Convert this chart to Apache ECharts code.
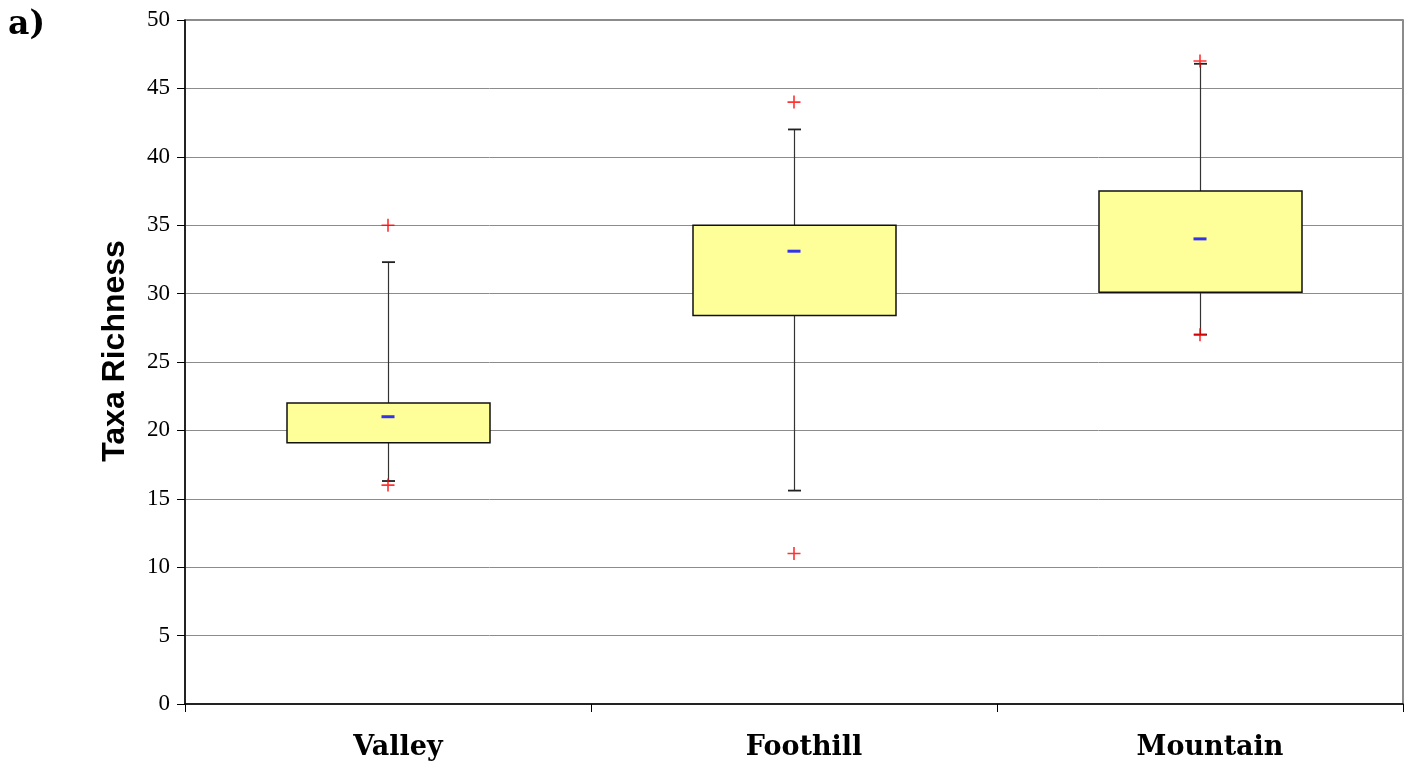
<!DOCTYPE html>
<html>
<head>
<meta charset="utf-8">
<script src="https://cdn.jsdelivr.net/npm/echarts@6/dist/echarts.min.js"></script>
<style>
html,body{margin:0;padding:0;background:#fff;}
#chart{width:1409px;height:767px;}
</style>
</head>
<body>
<div id="chart"></div>
<script>
// ---- data ----
var categories = ['Valley', 'Foothill', 'Mountain'];
var whiskerLow  = [16.3, 15.6, 27.0];
var q1          = [19.1, 28.4, 30.1];
var q3          = [22.0, 35.0, 37.5];
var whiskerHigh = [32.3, 42.0, 46.8];
var means       = [21.0, 33.1, 34.0];
var outliers    = [[0, 35], [0, 16], [1, 44], [1, 11], [2, 47], [2, 27]];
var yTicks = { min: 0, max: 50, interval: 5 };

var boxData = categories.map(function (c, i) {
  return [i, whiskerLow[i], q1[i], q3[i], whiskerHigh[i]];
});
var meanData = categories.map(function (c, i) { return [i, means[i]]; });

var chart = echarts.init(document.getElementById('chart'), null, { renderer: 'canvas' });

function renderBox(params, api) {
  var x = api.value(0);
  var pLow = api.coord([x, api.value(1)]);
  var pQ1 = api.coord([x, api.value(2)]);
  var pQ3 = api.coord([x, api.value(3)]);
  var pHigh = api.coord([x, api.value(4)]);
  var bw = api.size([1, 0])[0] * 0.5;
  var cx = Math.round(pLow[0]) + 0.5;
  var capW = 13;
  return {
    type: 'group',
    children: [
      { type: 'line', shape: { x1: cx, y1: pHigh[1], x2: cx, y2: pLow[1] },
        style: { stroke: '#333', lineWidth: 1.2 } },
      { type: 'line', shape: { x1: cx - capW / 2, y1: pHigh[1], x2: cx + capW / 2, y2: pHigh[1] },
        style: { stroke: '#222', lineWidth: 1.8 } },
      { type: 'line', shape: { x1: cx - capW / 2, y1: pLow[1], x2: cx + capW / 2, y2: pLow[1] },
        style: { stroke: '#222', lineWidth: 1.8 } },
      { type: 'rect', shape: { x: cx - bw / 2, y: pQ3[1], width: bw, height: pQ1[1] - pQ3[1] },
        style: { fill: '#FFFF99', stroke: '#111', lineWidth: 1.5 } }
    ]
  };
}

var option = {
  backgroundColor: '#fff',
  animation: false,
  grid: { left: 185, right: 6, top: 20, bottom: 63, show: true, borderColor: '#666', borderWidth: 1.5, backgroundColor: 'transparent' },
  xAxis: {
    type: 'category',
    data: categories,
    boundaryGap: true,
    axisLine: { show: true, lineStyle: { color: '#000', width: 1.5 } },
    axisTick: { show: true, length: 8, inside: false, lineStyle: { color: '#000', width: 1 } },
    axisLabel: {
      fontFamily: 'DejaVu Serif', fontWeight: 'bold', fontSize: 27, color: '#000',
      margin: 30, padding: [0, 0, 0, 20]
    },
    splitLine: { show: false }
  },
  yAxis: {
    type: 'value',
    min: yTicks.min, max: yTicks.max, interval: yTicks.interval,
    axisLine: { show: true, lineStyle: { color: '#000', width: 1.5 } },
    axisTick: { show: true, length: 8, lineStyle: { color: '#000', width: 1 } },
    axisLabel: { fontFamily: 'Liberation Serif', fontSize: 23, color: '#000', margin: 15 },
    splitLine: { show: true, lineStyle: { color: '#8c8c8c', width: 1 } }
  },
  graphic: [
    { type: 'text', left: 8, top: 9,
      style: { text: 'a)', fontFamily: 'DejaVu Serif', fontWeight: 'bold', fontSize: 33, fill: '#000' } },
    { type: 'text', x: 115, y: 351, rotation: Math.PI / 2,
      style: { text: 'Taxa Richness', fontFamily: 'Liberation Sans', fontWeight: 'bold', fontSize: 32, fill: '#000',
               align: 'center', verticalAlign: 'middle' } }
  ],
  series: [
    { type: 'custom', renderItem: renderBox, data: boxData, z: 2,
      encode: { x: 0, y: [1, 2, 3, 4] } },
    { type: 'scatter', data: meanData, symbol: 'rect', symbolSize: [13, 3],
      itemStyle: { color: '#0000FF' }, z: 3 },
    { type: 'scatter', data: outliers,
      symbol: 'path://M5.25,0h1.5v5.25h5.25v1.5h-5.25v5.25h-1.5v-5.25h-5.25v-1.5h5.25z',
      symbolSize: 13, itemStyle: { color: '#FF0000' }, z: 4 }
  ]
};
chart.setOption(option);
</script>
</body>
</html>
